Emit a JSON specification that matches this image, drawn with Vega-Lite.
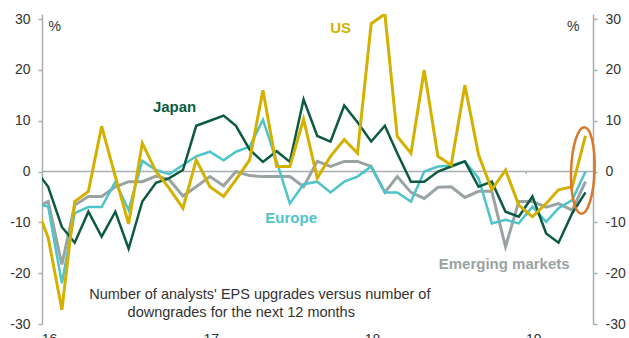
{
  "$schema": "https://vega.github.io/schema/vega-lite/v6.json",
  "width": 551,
  "height": 310,
  "autosize": {"type": "none"},
  "padding": {"left": 42, "top": 14, "right": 36, "bottom": 14},
  "background": "white",
  "config": {"view": {"stroke": null}, "font": "Liberation Sans"},
  "data": {
    "values": [
      {"date": "2015-12-15", "US": -6, "Japan": 0.6, "Europe": -6.3, "EM": -7.3},
      {"date": "2016-01-15", "US": -13, "Japan": -3, "Europe": -6.9, "EM": -5.9},
      {"date": "2016-02-15", "US": -27.2, "Japan": -10.9, "Europe": -22, "EM": -18.3},
      {"date": "2016-03-15", "US": -5.9, "Japan": -14, "Europe": -8.2, "EM": -6.6},
      {"date": "2016-04-15", "US": -3.9, "Japan": -7.9, "Europe": -7, "EM": -4.9},
      {"date": "2016-05-15", "US": 8.9, "Japan": -12.8, "Europe": -7, "EM": -4.9},
      {"date": "2016-06-15", "US": -1, "Japan": -7.9, "Europe": -2, "EM": -3},
      {"date": "2016-07-15", "US": -10.3, "Japan": -15.2, "Europe": -7.6, "EM": -2},
      {"date": "2016-08-15", "US": 5.6, "Japan": -5.9, "Europe": 2.1, "EM": -2},
      {"date": "2016-09-15", "US": 0, "Japan": -2.2, "Europe": 0.3, "EM": -0.9},
      {"date": "2016-10-15", "US": -3.3, "Japan": -1.3, "Europe": -0.5, "EM": -1.6},
      {"date": "2016-11-15", "US": -7.2, "Japan": 0.3, "Europe": 1.3, "EM": -4.8},
      {"date": "2016-12-15", "US": 2.3, "Japan": 9, "Europe": 3, "EM": -3},
      {"date": "2017-01-15", "US": -3, "Japan": 10, "Europe": 3.9, "EM": -1},
      {"date": "2017-02-15", "US": -4.9, "Japan": 11, "Europe": 2.2, "EM": -2.8},
      {"date": "2017-03-15", "US": -1.6, "Japan": 9, "Europe": 3.9, "EM": 0},
      {"date": "2017-04-15", "US": 2.3, "Japan": 4.3, "Europe": 4.9, "EM": -0.8},
      {"date": "2017-05-15", "US": 16, "Japan": 1.9, "Europe": 10.2, "EM": -1},
      {"date": "2017-06-15", "US": 1, "Japan": 4, "Europe": 2, "EM": -1},
      {"date": "2017-07-15", "US": 1, "Japan": 1.9, "Europe": -6.3, "EM": -1},
      {"date": "2017-08-15", "US": 10.3, "Japan": 14.2, "Europe": -2.5, "EM": -3},
      {"date": "2017-09-15", "US": -1.3, "Japan": 7, "Europe": -2, "EM": 2},
      {"date": "2017-10-15", "US": 3, "Japan": 5.9, "Europe": -4.1, "EM": 1},
      {"date": "2017-11-15", "US": 6.3, "Japan": 13, "Europe": -2, "EM": 2},
      {"date": "2017-12-15", "US": 3.6, "Japan": 9.7, "Europe": -1, "EM": 2},
      {"date": "2018-01-15", "US": 29.1, "Japan": 5.9, "Europe": 1, "EM": 1},
      {"date": "2018-02-15", "US": 31, "Japan": 9, "Europe": -4.1, "EM": -4.1},
      {"date": "2018-03-15", "US": 6.9, "Japan": 3.6, "Europe": -4.1, "EM": -1},
      {"date": "2018-04-15", "US": 3.6, "Japan": -2, "Europe": -5.9, "EM": -4.1},
      {"date": "2018-05-15", "US": 20, "Japan": -2, "Europe": 0, "EM": -5.3},
      {"date": "2018-06-15", "US": 3, "Japan": 0, "Europe": 1, "EM": -3.1},
      {"date": "2018-07-15", "US": 1.3, "Japan": 1, "Europe": 1.2, "EM": -3},
      {"date": "2018-08-15", "US": 17, "Japan": 2, "Europe": 2, "EM": -5.1},
      {"date": "2018-09-15", "US": 3.3, "Japan": -3, "Europe": -1.3, "EM": -3.9},
      {"date": "2018-10-15", "US": -3.6, "Japan": -2, "Europe": -10.2, "EM": -3.9},
      {"date": "2018-11-15", "US": 0.3, "Japan": -7.9, "Europe": -9.5, "EM": -14.8},
      {"date": "2018-12-15", "US": -6.6, "Japan": -8.9, "Europe": -10.2, "EM": -5.9},
      {"date": "2019-01-15", "US": -8.9, "Japan": -4.9, "Europe": -6.9, "EM": -5.9},
      {"date": "2019-02-15", "US": -6.3, "Japan": -12.2, "Europe": -9.9, "EM": -7},
      {"date": "2019-03-15", "US": -3.6, "Japan": -14, "Europe": -7.2, "EM": -6.3},
      {"date": "2019-04-15", "US": -3, "Japan": -8.2, "Europe": -5.6, "EM": -7.6},
      {"date": "2019-05-15", "US": 7, "Japan": -4.1, "Europe": 0, "EM": -2}
    ]
  },
  "layer": [
    {
      "data": {"values": [{}]},
      "mark": {"type": "rule", "color": "#a7afb2", "strokeWidth": 1.5},
      "encoding": {"y": {"datum": 0, "type": "quantitative", "axis": null}}
    },
    {
      "data": {"values": [{"date": "2017-01-01", "a": 0, "b": -0.5}, {"date": "2018-01-01", "a": 0, "b": -0.5}, {"date": "2019-01-01", "a": 0, "b": -0.5}]},
      "mark": {"type": "rule", "color": "#a7afb2", "strokeWidth": 1.3},
      "encoding": {
        "x": {
          "field": "date", "type": "temporal",
          "scale": {"type": "utc", "domain": [{"year": 2016, "month": 1, "date": 1, "utc": true}, {"year": 2019, "month": 6, "date": 1, "utc": true}]},
          "axis": {
            "orient": "bottom", "title": null, "grid": false, "domain": false, "ticks": false, "tickSize": 0,
            "values": [{"year": 2016, "month": 1, "date": 1, "utc": true}, {"year": 2017, "month": 1, "date": 1, "utc": true}, {"year": 2018, "month": 1, "date": 1, "utc": true}, {"year": 2019, "month": 1, "date": 1, "utc": true}],
            "format": "%y", "labelFontSize": 14, "labelColor": "#333333", "labelPadding": 8, "labelOffset": 7,
            "labelAlign": "center", "labelBaseline": "top", "labelFlush": false, "labelOverlap": false
          }
        },
        "y": {"field": "a", "type": "quantitative", "axis": null},
        "y2": {"field": "b"}
      }
    },
    {
      "mark": {"type": "line", "color": "#9aa3a4", "strokeWidth": 3, "clip": true},
      "encoding": {
        "x": {"field": "date", "type": "temporal"},
        "y": {
          "field": "EM", "type": "quantitative",
          "scale": {"domain": [-30, 31], "nice": false, "zero": false},
          "axis": {
            "orient": "left", "values": [-30, -20, -10, 0, 10, 20, 30], "grid": false,
            "labelExpr": "'' + datum.value",
            "domainColor": "#a7afb2", "domainWidth": 1.5, "tickColor": "#a7afb2", "tickWidth": 1.5, "tickSize": 4,
            "labelFontSize": 14, "labelColor": "#333333", "labelPadding": 8,
            "title": "%", "titleAngle": 0, "titleX": 6, "titleY": 12, "titleAlign": "left", "titleBaseline": "middle",
            "titleFontSize": 14, "titleFontWeight": "normal", "titleColor": "#333333"
          }
        }
      }
    },
    {
      "mark": {"type": "line", "color": "#4ec4ca", "strokeWidth": 2.5, "clip": true},
      "encoding": {
        "x": {"field": "date", "type": "temporal"},
        "y": {
          "field": "Europe", "type": "quantitative",
          "axis": {
            "orient": "right", "values": [-30, -20, -10, 0, 10, 20, 30], "grid": false,
            "labelExpr": "'' + datum.value",
            "domainColor": "#a7afb2", "domainWidth": 1.5, "tickColor": "#a7afb2", "tickWidth": 1.5, "tickSize": 4,
            "labelFontSize": 14, "labelColor": "#333333", "labelPadding": 8,
            "title": "%", "titleAngle": 0, "titleX": -14, "titleY": 12, "titleAlign": "right", "titleBaseline": "middle",
            "titleFontSize": 14, "titleFontWeight": "normal", "titleColor": "#333333"
          }
        }
      }
    },
    {
      "mark": {"type": "line", "color": "#0c5b40", "strokeWidth": 2.5, "clip": true},
      "encoding": {
        "x": {"field": "date", "type": "temporal"},
        "y": {"field": "Japan", "type": "quantitative", "axis": null}
      }
    },
    {
      "mark": {"type": "line", "color": "#d4b100", "strokeWidth": 3, "clip": true},
      "encoding": {
        "x": {"field": "date", "type": "temporal"},
        "y": {"field": "US", "type": "quantitative", "axis": null}
      }
    },
    {
      "data": {"values": [{}]},
      "mark": {"type": "text", "text": "Japan", "fontSize": 15, "fontWeight": "bold", "color": "#0c5b40", "align": "center", "baseline": "alphabetic"},
      "encoding": {
        "x": {"datum": {"year": 2016, "month": 10, "date": 27, "utc": true}, "type": "temporal"},
        "y": {"datum": 11.72, "type": "quantitative", "axis": null}
      }
    },
    {
      "data": {"values": [{}]},
      "mark": {"type": "text", "text": "US", "fontSize": 15, "fontWeight": "bold", "color": "#d4b100", "align": "center", "baseline": "alphabetic"},
      "encoding": {
        "x": {"datum": {"year": 2017, "month": 11, "date": 7, "utc": true}, "type": "temporal"},
        "y": {"datum": 27.2, "type": "quantitative", "axis": null}
      }
    },
    {
      "data": {"values": [{}]},
      "mark": {"type": "text", "text": "Europe", "fontSize": 15, "fontWeight": "bold", "color": "#4ec4ca", "align": "center", "baseline": "alphabetic"},
      "encoding": {
        "x": {"datum": {"year": 2017, "month": 7, "date": 18, "utc": true}, "type": "temporal"},
        "y": {"datum": -10.07, "type": "quantitative", "axis": null}
      }
    },
    {
      "data": {"values": [{}]},
      "mark": {"type": "text", "text": "Emerging markets", "fontSize": 15, "fontWeight": "bold", "color": "#9aa3a4", "align": "center", "baseline": "alphabetic"},
      "encoding": {
        "x": {"datum": {"year": 2018, "month": 11, "date": 12, "utc": true}, "type": "temporal"},
        "y": {"datum": -19.08, "type": "quantitative", "axis": null}
      }
    },
    {
      "data": {"values": [{}]},
      "mark": {"type": "text", "text": "Number of analysts' EPS upgrades versus number of", "fontSize": 14.5, "color": "#333333", "align": "center", "baseline": "alphabetic"},
      "encoding": {
        "x": {"datum": {"year": 2017, "month": 5, "date": 8, "utc": true}, "type": "temporal"},
        "y": {"datum": -25.14, "type": "quantitative", "axis": null}
      }
    },
    {
      "data": {"values": [{}]},
      "mark": {"type": "text", "text": "downgrades for the next 12 months", "fontSize": 14.5, "color": "#333333", "align": "center", "baseline": "alphabetic"},
      "encoding": {
        "x": {"datum": {"year": 2017, "month": 3, "date": 27, "utc": true}, "type": "temporal"},
        "y": {"datum": -28.68, "type": "quantitative", "axis": null}
      }
    },
    {
      "data": {"values": [{}]},
      "mark": {
        "type": "point",
        "shape": "M0,-1C0.15,-1,0.272,-0.552,0.272,0C0.272,0.552,0.15,1,0,1C-0.15,1,-0.272,0.552,-0.272,0C-0.272,-0.552,-0.15,-1,0,-1Z",
        "size": 7480, "filled": false, "stroke": "#d9772b", "strokeWidth": 2.5, "opacity": 1, "angle": 2
      },
      "encoding": {
        "x": {"datum": {"year": 2019, "month": 5, "date": 9, "utc": true}, "type": "temporal"},
        "y": {"datum": 0.2, "type": "quantitative", "axis": null}
      }
    }
  ],
  "resolve": {"axis": {"y": "independent"}}
}
